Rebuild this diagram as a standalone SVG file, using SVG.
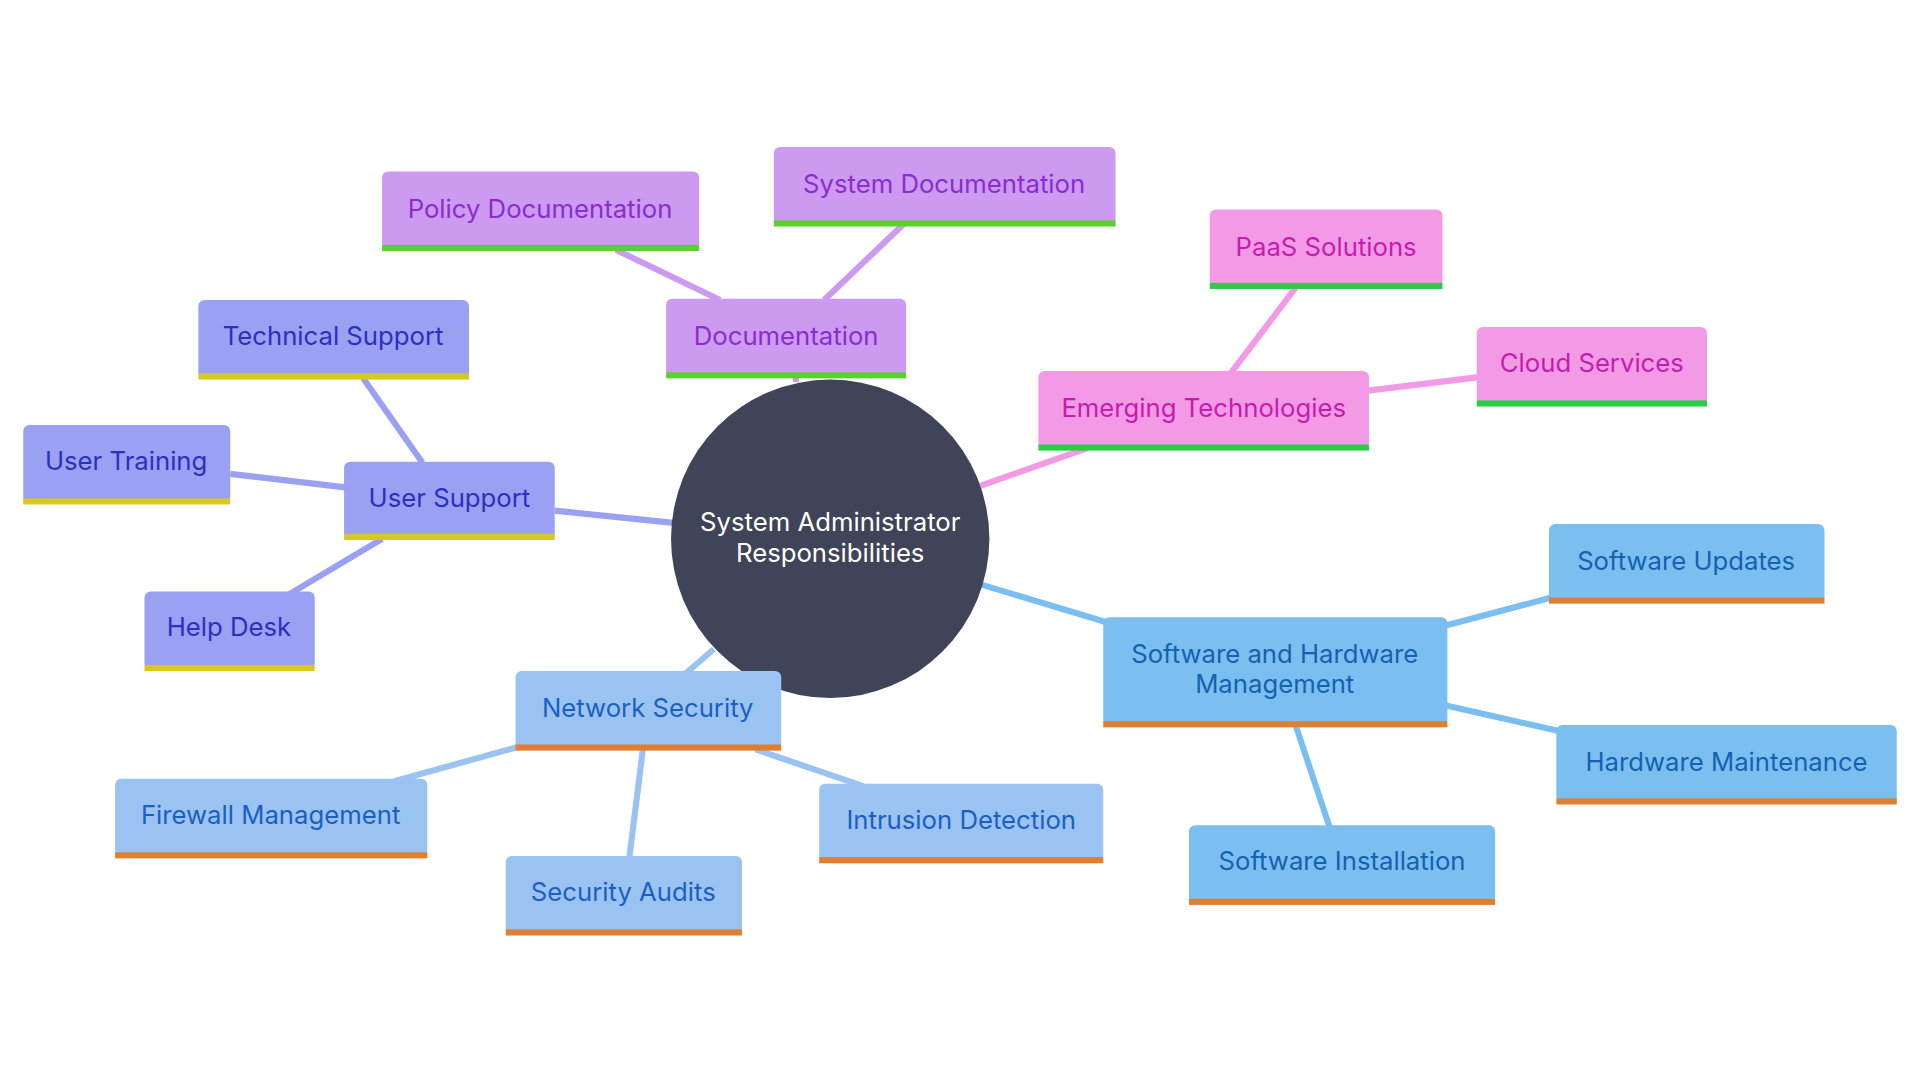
<svg xmlns="http://www.w3.org/2000/svg" width="1920" height="1080" viewBox="0 0 1920 1080">
<style>
text{font-family:Inter,"Noto Sans",sans-serif;font-size:21px;text-anchor:middle;dominant-baseline:central}
.us rect.b{fill:#9aa0f2}.us rect.u{fill:#d8c820}.us text{fill:#2b30bf}
.dc rect.b{fill:#cd9af2}.dc rect.u{fill:#5ccf32}.dc text{fill:#8b2ccf}
.em rect.b{fill:#f39ae6}.em rect.u{fill:#2ccc48}.em text{fill:#c61cae}
.ns rect.b{fill:#9bc3f1}.ns rect.u{fill:#de7f32}.ns text{fill:#1c5fc2}
.sw rect.b{fill:#7bbff1}.sw rect.u{fill:#de7f32}.sw text{fill:#1462b0}
.c line{stroke-width:5}
</style>
<rect width="1920" height="1080" fill="#fff"/>
<g transform="scale(1.2245)">
<g id="connectors" class="c">
<line x1="550" y1="427" x2="453" y2="417" stroke="#9aa0f2"/>
<line x1="345" y1="378" x2="296" y2="308" stroke="#9aa0f2"/>
<line x1="282" y1="398" x2="188" y2="387" stroke="#9aa0f2"/>
<line x1="312" y1="440" x2="235" y2="486" stroke="#9aa0f2"/>
<line x1="650" y1="312" x2="650" y2="306" stroke="#cd9af2"/>
<line x1="588" y1="245" x2="503" y2="204" stroke="#cd9af2"/>
<line x1="673" y1="245" x2="738" y2="183" stroke="#cd9af2"/>
<line x1="800" y1="397" x2="888" y2="366" stroke="#f39ae6"/>
<line x1="1005" y1="305" x2="1058" y2="235" stroke="#f39ae6"/>
<line x1="1117" y1="319" x2="1208" y2="308" stroke="#f39ae6"/>
<line x1="800" y1="477" x2="903" y2="508" stroke="#7bbff1"/>
<line x1="1180" y1="511" x2="1267" y2="488" stroke="#7bbff1"/>
<line x1="1180" y1="576" x2="1273" y2="597" stroke="#7bbff1"/>
<line x1="1058" y1="592" x2="1086" y2="676" stroke="#7bbff1"/>
<line x1="583" y1="530" x2="560" y2="550" stroke="#9bc3f1"/>
<line x1="423" y1="610" x2="322" y2="638" stroke="#9bc3f1"/>
<line x1="525" y1="612" x2="514" y2="700" stroke="#9bc3f1"/>
<line x1="617" y1="612" x2="705" y2="642" stroke="#9bc3f1"/>
</g>
<g id="center"><circle cx="678" cy="440" r="130" fill="#404459"/><text x="678" y="426" fill="#fff">System Administrator</text><text x="678" y="451" fill="#fff">Responsibilities</text></g>
<g id="user-support" class="us"><rect class="b" x="281" y="377" width="172" height="64" rx="5"/><rect class="u" x="281" y="436" width="172" height="5"/><text x="367" y="406">User Support</text></g>
<g id="technical-support" class="us"><rect class="b" x="162" y="245" width="221" height="64" rx="5"/><rect class="u" x="162" y="305" width="221" height="5"/><text x="272" y="274">Technical Support</text></g>
<g id="user-training" class="us"><rect class="b" x="19" y="347" width="169" height="64" rx="5"/><rect class="u" x="19" y="407" width="169" height="5"/><text x="103" y="376">User Training</text></g>
<g id="help-desk" class="us"><rect class="b" x="118" y="483" width="139" height="64" rx="5"/><rect class="u" x="118" y="543" width="139" height="5"/><text x="187" y="512">Help Desk</text></g>
<g id="documentation" class="dc"><rect class="b" x="544" y="244" width="196" height="64" rx="5"/><rect class="u" x="544" y="304" width="196" height="5"/><text x="642" y="274">Documentation</text></g>
<g id="policy-doc" class="dc"><rect class="b" x="312" y="140" width="259" height="64" rx="5"/><rect class="u" x="312" y="200" width="259" height="5"/><text x="441" y="170">Policy Documentation</text></g>
<g id="system-doc" class="dc"><rect class="b" x="632" y="120" width="279" height="64" rx="5"/><rect class="u" x="632" y="180" width="279" height="5"/><text x="771" y="150">System Documentation</text></g>
<g id="emerging" class="em"><rect class="b" x="848" y="303" width="270" height="64" rx="5"/><rect class="u" x="848" y="363" width="270" height="5"/><text x="983" y="333">Emerging Technologies</text></g>
<g id="paas" class="em"><rect class="b" x="988" y="171" width="190" height="64" rx="5"/><rect class="u" x="988" y="231" width="190" height="5"/><text x="1083" y="201">PaaS Solutions</text></g>
<g id="cloud" class="em"><rect class="b" x="1206" y="267" width="188" height="64" rx="5"/><rect class="u" x="1206" y="327" width="188" height="5"/><text x="1300" y="296">Cloud Services</text></g>
<g id="sw-hw" class="sw"><rect class="b" x="901" y="504" width="281" height="89" rx="5"/><rect class="u" x="901" y="589" width="281" height="5"/><text x="1041" y="534">Software and Hardware</text><text x="1041" y="558">Management</text></g>
<g id="sw-updates" class="sw"><rect class="b" x="1265" y="428" width="225" height="64" rx="5"/><rect class="u" x="1265" y="488" width="225" height="5"/><text x="1377" y="458">Software Updates</text></g>
<g id="hw-maint" class="sw"><rect class="b" x="1271" y="592" width="278" height="64" rx="5"/><rect class="u" x="1271" y="652" width="278" height="5"/><text x="1410" y="622">Hardware Maintenance</text></g>
<g id="sw-install" class="sw"><rect class="b" x="971" y="674" width="250" height="64" rx="5"/><rect class="u" x="971" y="734" width="250" height="5"/><text x="1096" y="703">Software Installation</text></g>
<g id="net-sec" class="ns"><rect class="b" x="421" y="548" width="217" height="64" rx="5"/><rect class="u" x="421" y="608" width="217" height="5"/><text x="529" y="578">Network Security</text></g>
<g id="firewall" class="ns"><rect class="b" x="94" y="636" width="255" height="64" rx="5"/><rect class="u" x="94" y="696" width="255" height="5"/><text x="221" y="665">Firewall Management</text></g>
<g id="audits" class="ns"><rect class="b" x="413" y="699" width="193" height="64" rx="5"/><rect class="u" x="413" y="759" width="193" height="5"/><text x="509" y="728">Security Audits</text></g>
<g id="intrusion" class="ns"><rect class="b" x="669" y="640" width="232" height="64" rx="5"/><rect class="u" x="669" y="700" width="232" height="5"/><text x="785" y="669">Intrusion Detection</text></g>
</g>
</svg>
